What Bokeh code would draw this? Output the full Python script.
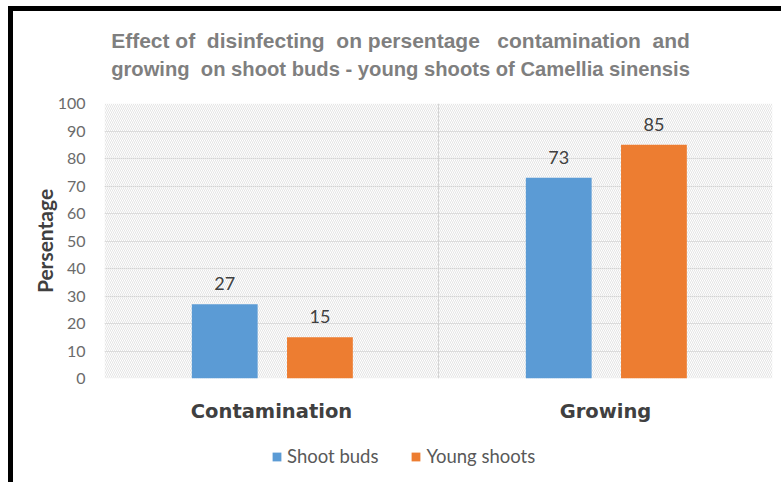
from bokeh.plotting import figure
from bokeh.layouts import column
from bokeh.models import (ColumnDataSource, FactorRange, Range1d, LabelSet, Legend, LegendItem,
                          BoxAnnotation, Span, Label, SingleIntervalTicker)
from bokeh.core.properties import value
from bokeh.transform import dodge
from bokeh.embed import file_html
from bokeh.resources import INLINE

categories = ["Contamination", "Growing"]
shoot_buds = [27, 73]
young_shoots = [15, 85]
series_names = ["Shoot buds", "Young shoots"]
title_lines = ["Effect of  disinfecting  on persentage   contamination  and",
               "growing  on shoot buds - young shoots of Camellia sinensis"]
y_ticks_step = 10

BLUE = "#5B9BD5"
ORANGE = "#ED7D31"
W = 768
FRAME_W = 668  # plot-area width (frames are aligned across the column)

src = ColumnDataSource(dict(cat=categories, sb=shoot_buds, ys=young_shoots,
                            sb_lbl=[str(v) for v in shoot_buds],
                            ys_lbl=[str(v) for v in young_shoots]))

# ---- title strip ----
H0 = 80
p0 = figure(width=W, height=H0, x_range=Range1d(0, FRAME_W), y_range=Range1d(H0, 0),
            x_axis_type=None, y_axis_type=None, output_backend="svg",
            toolbar_location=None, min_border=0, outline_line_color=None)
p0.grid.visible = False

def keep_spaces(s):
    return s.replace("  ", " \u00a0")

title_sizes = ["21px", "20.2px"]
for i, line in enumerate(title_lines):
    p0.add_layout(Label(x=296, y=29 + 28 * i, text=keep_spaces(line), text_align="center",
                        text_baseline="middle", text_font="Liberation Sans",
                        text_font_size=title_sizes[i], text_font_style="bold",
                        text_color="#7f7f7f"))

# ---- main chart ----
p = figure(x_range=FactorRange(*categories), y_range=Range1d(0, 100),
           width=W, height=339, output_backend="svg", toolbar_location=None,
           min_border_left=91, min_border_right=9, min_border_top=12, min_border_bottom=52,
           outline_line_color=None)

p.add_layout(BoxAnnotation(fill_color="white", fill_alpha=0, line_color=None,
                           hatch_pattern="left_diagonal_line", hatch_color="#e4e4e4",
                           hatch_scale=4, hatch_weight=1, level="underlay"))

p.ygrid.grid_line_color = "#d4d4d4"
p.ygrid.ticker = SingleIntervalTicker(interval=y_ticks_step)
p.xgrid.grid_line_color = None
p.add_layout(Span(location=1, dimension="height", line_color="#d4d4d4", line_width=1, level="underlay"))

r1 = p.vbar(x=dodge("cat", -0.14, range=p.x_range), top="sb", width=0.197, source=src,
            fill_color=BLUE, line_color=None)
r2 = p.vbar(x=dodge("cat", 0.145, range=p.x_range), top="ys", width=0.197, source=src,
            fill_color=ORANGE, line_color=None)

for xo, col, lbl in [(-0.14, "sb", "sb_lbl"), (0.145, "ys", "ys_lbl")]:
    p.add_layout(LabelSet(x=dodge("cat", xo, range=p.x_range), y=col, text=lbl, source=src,
                          y_offset=14, text_align="center", text_baseline="bottom",
                          text_font=value("Lato"), text_font_size=value("18px"),
                          text_color="#404040"))

p.yaxis.ticker = SingleIntervalTicker(interval=y_ticks_step)
p.yaxis.axis_line_color = None
p.yaxis.major_tick_line_color = None
p.yaxis.minor_tick_line_color = None
p.yaxis.major_label_standoff = 13
p.yaxis.major_label_text_font = "Lato"
p.yaxis.major_label_text_font_size = "16px"
p.yaxis.major_label_text_color = "#6b6b6b"
p.yaxis.axis_label = "Persentage"
p.yaxis.axis_label_text_font = "Lato"
p.yaxis.axis_label_text_font_style = "bold"
p.yaxis.axis_label_text_font_size = "21px"
p.yaxis.axis_label_text_color = "#404040"
p.yaxis.axis_label_standoff = -2

p.xaxis.axis_line_color = None
p.xaxis.major_tick_line_color = None
p.xaxis.minor_tick_line_color = None
p.xaxis.major_label_standoff = 15
p.xaxis.major_label_text_font = "DejaVu Sans"
p.xaxis.major_label_text_font_style = "bold"
p.xaxis.major_label_text_font_size = "19.5px"
p.xaxis.major_label_text_color = "#404040"

# ---- legend strip (proxy glyphs sit outside the visible range) ----
p2 = figure(width=W, height=52, x_range=Range1d(0, 1), y_range=Range1d(0, 1),
            x_axis_type=None, y_axis_type=None, output_backend="svg",
            toolbar_location=None, min_border=0, outline_line_color=None)
p2.grid.visible = False
k1 = p2.vbar(x=[-5], top=[0], width=0.1, fill_color=BLUE, line_color=None)
k2 = p2.vbar(x=[-5], top=[0], width=0.1, fill_color=ORANGE, line_color=None)
legend = Legend(items=[LegendItem(label=series_names[0], renderers=[k1]),
                       LegendItem(label=series_names[1], renderers=[k2])],
                orientation="horizontal", location=(167, 15),
                glyph_width=11, glyph_height=11, spacing=32, label_standoff=5,
                label_text_font="Lato", label_text_font_size="18.5px", label_text_color="#595959",
                border_line_color=None, background_fill_alpha=0, padding=0, margin=0)
p2.add_layout(legend, "center")

layout = column(p0, p, p2, spacing=0,
                styles={"border-top": "5px solid black", "border-left": "5px solid black",
                        "margin-top": "6px", "margin-left": "8px"})

open("out.html", "w").write(file_html(layout, INLINE))
